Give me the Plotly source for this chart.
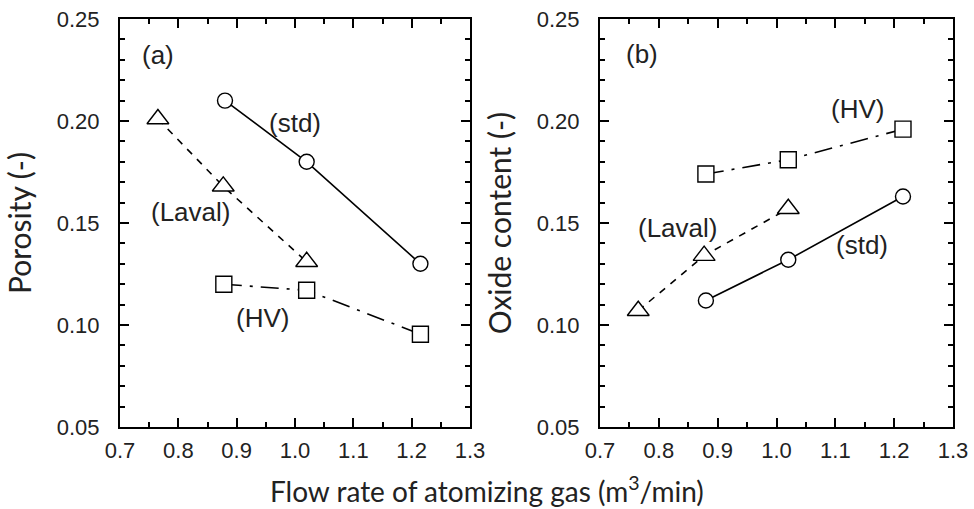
import plotly.graph_objects as go

# ---- data ----
a_std_x = [0.88, 1.02, 1.215]
a_std_y = [0.210, 0.180, 0.130]
a_laval_x = [0.765, 0.877, 1.02]
a_laval_y = [0.201, 0.168, 0.131]
a_hv_x = [0.878, 1.02, 1.215]
a_hv_y = [0.120, 0.117, 0.0955]

b_std_x = [0.88, 1.02, 1.215]
b_std_y = [0.112, 0.132, 0.163]
b_laval_x = [0.765, 0.877, 1.02]
b_laval_y = [0.107, 0.134, 0.157]
b_hv_x = [0.88, 1.02, 1.215]
b_hv_y = [0.174, 0.181, 0.196]

x_ticks = [0.7, 0.8, 0.9, 1.0, 1.1, 1.2, 1.3]
x_tick_text = ["0.7", "0.8", "0.9", "1.0", "1.1", "1.2", "1.3"]
y_ticks = [0.05, 0.10, 0.15, 0.20, 0.25]
y_tick_text = ["0.05", "0.10", "0.15", "0.20", "0.25"]

fig = go.Figure()

def add_series(x, y, symbol, size, dash, xa, ya):
    fig.add_trace(go.Scatter(
        x=x, y=y, mode="lines+markers", xaxis=xa, yaxis=ya,
        line=dict(color="black", width=1.6, dash=dash),
        marker=dict(symbol=symbol, size=size, color="white",
                    line=dict(color="black", width=1.4)),
        showlegend=False, cliponaxis=False))

add_series(a_std_x, a_std_y, "circle", 15, "solid", "x", "y")
add_series(a_laval_x, a_laval_y, "triangle-up", 19, "7px,7px", "x", "y")
add_series(a_hv_x, a_hv_y, "square", 16, "18px,8px,3px,8px", "x", "y")
add_series(b_std_x, b_std_y, "circle", 15, "solid", "x2", "y2")
add_series(b_laval_x, b_laval_y, "triangle-up", 19, "7px,7px", "x2", "y2")
add_series(b_hv_x, b_hv_y, "square", 16, "18px,8px,3px,8px", "x2", "y2")

tickfont = dict(family="Liberation Sans, Arial", size=22, color="#222")
ytitlefont = dict(family="Lato", size=30, color="#222")
xtitlefont = dict(family="Lato", size=28, color="#222")
xcommon = dict(range=[0.7, 1.3], tickvals=x_ticks, ticktext=x_tick_text,
               ticks="inside", ticklen=9, tickwidth=1.5, tickcolor="black",
               showline=True, linecolor="black", linewidth=2, mirror="ticks",
               showgrid=False, zeroline=False, tickfont=tickfont,
               automargin=False, ticklabelstandoff=3,
               minor=dict(dtick=0.05, tick0=0.7, ticks="inside", ticklen=5,
                          tickwidth=1.5, tickcolor="black", showgrid=False))
ycommon = dict(range=[0.05, 0.25], tickvals=y_ticks, ticktext=y_tick_text,
               ticks="inside", ticklen=9, tickwidth=1.5, tickcolor="black",
               showline=True, linecolor="black", linewidth=2, mirror="ticks",
               showgrid=False, zeroline=False, tickfont=tickfont,
               automargin=False, ticklabelstandoff=14,
               minor=dict(dtick=0.01, tick0=0.05, ticks="inside", ticklen=5,
                          tickwidth=1.5, tickcolor="black", showgrid=False))

W, H = 974, 509
ydom = [1 - 427 / H, 1 - 19 / H]
fig.update_layout(
    width=W, height=H, margin=dict(l=0, r=0, t=0, b=0),
    plot_bgcolor="white", paper_bgcolor="white",
    xaxis=dict(domain=[120 / W, 470 / W], anchor="y", **xcommon),
    yaxis=dict(domain=ydom, anchor="x",
               title=dict(text="Porosity (-)", standoff=16, font=ytitlefont),
               **ycommon),
    xaxis2=dict(domain=[600 / W, 953 / W], anchor="y2", **xcommon),
    yaxis2=dict(domain=ydom, anchor="x2",
                title=dict(text="Oxide content (-)", standoff=16, font=ytitlefont),
                **ycommon),
)

def label(text, x, y, xref, yref, size=26):
    fig.add_annotation(text=text, x=x, y=y, xref=xref, yref=yref, showarrow=False,
                       font=dict(family="Liberation Sans, Arial", size=size, color="#222"))

label("(a)", 0.765, 0.2324, "x", "y")
label("(std)", 1.0, 0.199, "x", "y")
label("(Laval)", 0.82, 0.1554, "x", "y")
label("(HV)", 0.945, 0.1034, "x", "y")
label("(b)", 0.771, 0.233, "x2", "y2")
label("(HV)", 1.137, 0.206, "x2", "y2")
label("(Laval)", 0.831, 0.1476, "x2", "y2")
label("(std)", 1.146, 0.139, "x2", "y2")

fig.add_annotation(text="Flow rate of atomizing gas (m<sup>3</sup>/min)",
                   x=487 / W, y=1 - 489 / H, xref="paper", yref="paper",
                   xanchor="center", yanchor="middle",
                   showarrow=False, font=xtitlefont)

fig.write_html("out.html")
